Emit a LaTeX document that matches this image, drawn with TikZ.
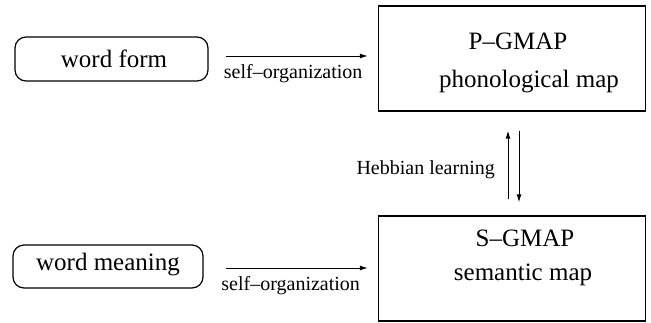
\documentclass[tikz,border=0pt]{standalone}
\usepackage{fontspec}
\setmainfont{Liberation Serif}
\usetikzlibrary{arrows.meta}
\tikzset{
  mapbox/.style={draw, line width=1.4pt, minimum width=267pt, minimum height=105pt, inner sep=0pt},
  inbox/.style={draw, line width=1.2pt, rounded corners=11pt, inner sep=0pt},
  big/.style={font=\fontsize{25}{28}\selectfont, inner sep=0pt},
  small/.style={font=\fontsize{20}{22}\selectfont, inner sep=0pt},
  arr/.style={line width=1pt, -{Latex[length=8pt,width=5pt]}}
}
\begin{document}
\begin{tikzpicture}[x=1pt,y=-1pt]
\useasboundingbox (0,0) rectangle (651,322);
% boxes
\node[mapbox] (pbox) at (512,58.5) {};
\node[mapbox] (sbox) at (512,268.5) {};
\node[inbox, minimum width=193pt, minimum height=44pt] (wf) at (111.5,59) {};
\node[inbox, minimum width=190pt, minimum height=43pt] (wm) at (108,266.5) {};
% texts
\node[big] (wft) at (114,59) {word form};
\node[big] (wmt) at (108,265) {word meaning};
\node[big] (pt1) at (518,41) {P--GMAP};
\node[big] (pt2) at (529,82) {phonological map};
\node[big] (st1) at (525,238) {S--GMAP};
\node[big] (st2) at (523,275) {semantic map};
% horizontal arrows
\draw[arr, shorten <=17pt, shorten >=10pt] ([yshift=3pt]wf.east) -- ([yshift=3pt]wf.east -| pbox.west)
  node[small, midway, below=8pt] (l1) {self--organization};
\draw[arr, shorten <=22pt, shorten >=10pt] ([yshift=-1.5pt]wm.east) -- ([yshift=-1.5pt]wm.east -| sbox.west)
  node[small, midway, below=8pt] (l2) {self--organization};
% vertical arrows
\draw[arr, shorten <=16pt, shorten >=19pt] ([xshift=-4pt]sbox.north) -- ([xshift=-4pt]pbox.south);
\draw[arr, shorten <=19pt, shorten >=13pt] ([xshift=7pt]pbox.south) -- ([xshift=7pt]sbox.north);
\node[small, anchor=east] (hl) at (495,170) {Hebbian learning};
\end{tikzpicture}
\end{document}
